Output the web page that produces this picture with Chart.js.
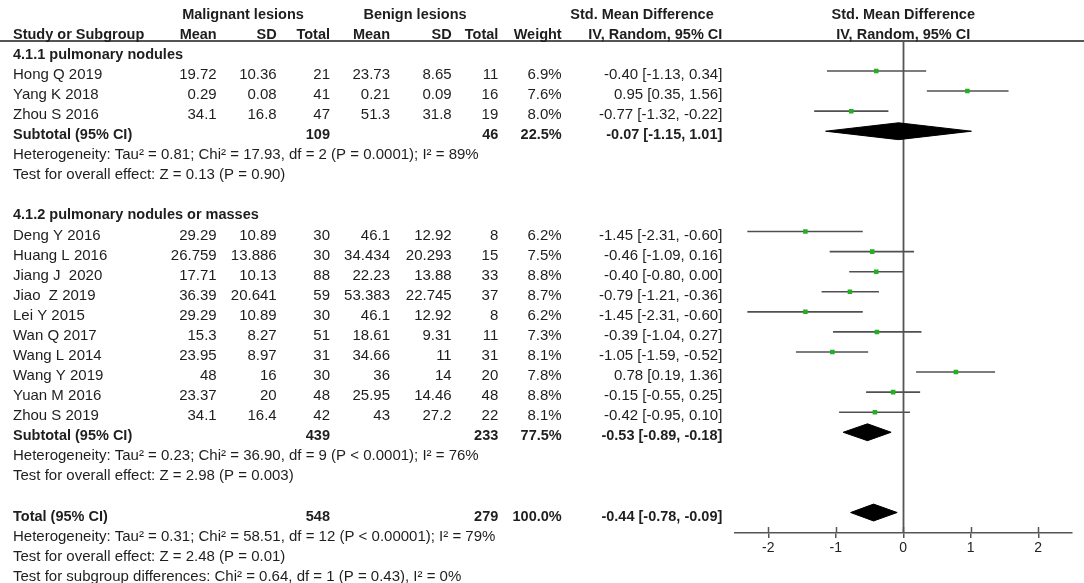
<!DOCTYPE html>
<html>
<head>
<meta charset="utf-8">
<script src="https://cdn.jsdelivr.net/npm/chart.js@4.4.1/dist/chart.umd.min.js"></script>
<style>
  html, body { margin: 0; padding: 0; background: #fff; }
  #wrap { width: 1084px; height: 583px; position: relative; }
</style>
</head>
<body>
<div id="wrap"><canvas id="forest"></canvas></div>
<script>
// study level data
var studies = ['Hong Q 2019', 'Yang K 2018', 'Zhou S 2016',
  'Deng Y 2016', 'Huang L 2016', 'Jiang J  2020', 'Jiao  Z 2019', 'Lei Y 2015',
  'Wan Q 2017', 'Wang L 2014', 'Wang Y 2019', 'Yuan M 2016', 'Zhou S 2019'];
var malMean = [19.72, 0.29, 34.1, 29.29, 26.759, 17.71, 36.39, 29.29, 15.3, 23.95, 48, 23.37, 34.1];
var malSD = [10.36, 0.08, 16.8, 10.89, 13.886, 10.13, 20.641, 10.89, 8.27, 8.97, 16, 20, 16.4];
var malN = [21, 41, 47, 30, 30, 88, 59, 30, 51, 31, 30, 48, 42];
var benMean = [23.73, 0.21, 51.3, 46.1, 34.434, 22.23, 53.383, 46.1, 18.61, 34.66, 36, 25.95, 43];
var benSD = [8.65, 0.09, 31.8, 12.92, 20.293, 13.88, 22.745, 12.92, 9.31, 11, 14, 14.46, 27.2];
var benN = [11, 16, 19, 8, 15, 33, 37, 8, 11, 31, 20, 48, 22];
var weights = ['6.9%', '7.6%', '8.0%', '6.2%', '7.5%', '8.8%', '8.7%', '6.2%', '7.3%', '8.1%', '7.8%', '8.8%', '8.1%'];
var smd = [-0.40, 0.95, -0.77, -1.45, -0.46, -0.40, -0.79, -1.45, -0.39, -1.05, 0.78, -0.15, -0.42];
var ciLow = [-1.13, 0.35, -1.32, -2.31, -1.09, -0.80, -1.21, -2.31, -1.04, -1.59, 0.19, -0.55, -0.95];
var ciHigh = [0.34, 1.56, -0.22, -0.60, 0.16, 0.00, -0.36, -0.60, 0.27, -0.52, 1.36, 0.25, 0.10];

// subgroups
var subgroups = ['4.1.1 pulmonary nodules', '4.1.2 pulmonary nodules or masses'];
var groupSize = [3, 10];
var subMalN = [109, 439];
var subBenN = [46, 233];
var subWeight = ['22.5%', '77.5%'];
var subSmd = [-0.07, -0.53];
var subLow = [-1.15, -0.89];
var subHigh = [1.01, -0.18];
var subHet = ['Heterogeneity: Tau² = 0.81; Chi² = 17.93, df = 2 (P = 0.0001); I² = 89%',
  'Heterogeneity: Tau² = 0.23; Chi² = 36.90, df = 9 (P < 0.0001); I² = 76%'];
var subTest = ['Test for overall effect: Z = 0.13 (P = 0.90)',
  'Test for overall effect: Z = 2.98 (P = 0.003)'];

// overall
var totalMalN = 548, totalBenN = 279, totalWeight = '100.0%';
var totalSmd = -0.44, totalLow = -0.78, totalHigh = -0.09;
var totalHet = 'Heterogeneity: Tau² = 0.31; Chi² = 58.51, df = 12 (P < 0.00001); I² = 79%';
var totalTest = 'Test for overall effect: Z = 2.48 (P = 0.01)';
var diffTest = 'Test for subgroup differences: Chi² = 0.64, df = 1 (P = 0.43), I² = 0%';

var tickVals = [-2, -1, 0, 1, 2];

// row layout (one row index per line of the table)
var studyRow = [];
var subRow = [];
var r = 0;
for (var g = 0; g < subgroups.length; g++) {
  subRow.push({ head: r });
  r++;
  for (var k = 0; k < groupSize[g]; k++) { studyRow.push(r); r++; }
  subRow[g].total = r; subRow[g].het = r + 1; subRow[g].test = r + 2;
  r += 4;
}
var totalRow = r; // 23

function ciText(e, l, h) {
  return e.toFixed(2) + ' [' + l.toFixed(2) + ', ' + h.toFixed(2) + ']';
}

// datasets
var pointData = studies.map(function (s, i) { return { x: smd[i], y: studyRow[i] }; });
var ciSets = studies.map(function (s, i) {
  return {
    type: 'line', data: [{ x: ciLow[i], y: studyRow[i] }, { x: ciHigh[i], y: studyRow[i] }],
    borderColor: '#505050', borderWidth: 1.6, pointRadius: 0, showLine: true, order: 2
  };
});
function diamond(e, l, h, row) {
  var hh = 0.42;
  return {
    type: 'line',
    data: [{ x: l, y: row }, { x: e, y: row - hh }, { x: h, y: row }, { x: e, y: row + hh }, { x: l, y: row }],
    borderColor: '#000', borderWidth: 1, backgroundColor: '#000', fill: 'shape',
    pointRadius: 0, showLine: true, tension: 0, order: 1
  };
}
var diamondSets = subgroups.map(function (s, g) {
  return diamond(subSmd[g], subLow[g], subHigh[g], subRow[g].total);
});
diamondSets.push(diamond(totalSmd, totalLow, totalHigh, totalRow));

var FONT = '"Liberation Sans", Arial, sans-serif';

var tablePlugin = {
  id: 'tablePlugin',
  beforeDatasetsDraw: function (chart) {
    var c = chart.ctx, x = chart.scales.x, a = chart.chartArea;
    c.save();
    c.strokeStyle = '#555';
    c.lineWidth = 2;
    c.beginPath();
    c.moveTo(0, a.top); c.lineTo(chart.width, a.top);
    c.stroke();
    var x0 = Math.round(x.getPixelForValue(0)) + 0.5;
    c.lineWidth = 1.8;
    c.beginPath();
    c.moveTo(x0, a.top); c.lineTo(x0, a.bottom);
    c.stroke();
    // upper half of tick marks
    c.lineWidth = 1.5;
    tickVals.forEach(function (v) {
      var px = Math.round(x.getPixelForValue(v)) + 0.5;
      c.beginPath(); c.moveTo(px, a.bottom - 6); c.lineTo(px, a.bottom); c.stroke();
    });
    c.restore();
  },
  afterDraw: function (chart) {
    var c = chart.ctx, y = chart.scales.y, x = chart.scales.x;
    var reg = '15px ' + FONT, bold = 'bold 14.5px ' + FONT;
    var cols = [216.7, 276.7, 330, 390, 451.7, 498.3, 561.7, 722.3];
    c.save();
    c.fillStyle = '#1e1e1e';
    c.textBaseline = 'alphabetic';
    function txt(s, px, py, align, f) {
      c.font = f; c.textAlign = align; c.fillText(s, px, py);
    }
    function base(row) { return y.getPixelForValue(row) + 8; }

    // header
    txt('Malignant lesions', 243, 18.5, 'center', bold);
    txt('Benign lesions', 415, 18.5, 'center', bold);
    txt('Std. Mean Difference', 642, 18.5, 'center', bold);
    txt('Std. Mean Difference', x.getPixelForValue(0), 18.5, 'center', bold);
    txt('Study or Subgroup', 13, 38.5, 'left', bold);
    var h2 = ['Mean', 'SD', 'Total', 'Mean', 'SD', 'Total', 'Weight', 'IV, Random, 95% CI'];
    h2.forEach(function (s, i) { txt(s, cols[i], 38.5, 'right', bold); });
    txt('IV, Random, 95% CI', x.getPixelForValue(0), 38.5, 'center', bold);

    // studies
    studies.forEach(function (s, i) {
      var b = base(studyRow[i]);
      txt(s, 13, b, 'left', reg);
      var vals = [malMean[i], malSD[i], malN[i], benMean[i], benSD[i], benN[i], weights[i],
        ciText(smd[i], ciLow[i], ciHigh[i])];
      vals.forEach(function (v, j) { txt(String(v), cols[j], b, 'right', reg); });
    });

    // subgroup rows
    subgroups.forEach(function (s, g) {
      var sr = subRow[g];
      txt(s, 13, base(sr.head), 'left', bold);
      var b = base(sr.total);
      txt('Subtotal (95% CI)', 13, b, 'left', bold);
      txt(String(subMalN[g]), cols[2], b, 'right', bold);
      txt(String(subBenN[g]), cols[5], b, 'right', bold);
      txt(subWeight[g], cols[6], b, 'right', bold);
      txt(ciText(subSmd[g], subLow[g], subHigh[g]), cols[7], b, 'right', bold);
      txt(subHet[g], 13, base(sr.het), 'left', reg);
      txt(subTest[g], 13, base(sr.test), 'left', reg);
    });

    // total
    var tb = base(totalRow);
    txt('Total (95% CI)', 13, tb, 'left', bold);
    txt(String(totalMalN), cols[2], tb, 'right', bold);
    txt(String(totalBenN), cols[5], tb, 'right', bold);
    txt(totalWeight, cols[6], tb, 'right', bold);
    txt(ciText(totalSmd, totalLow, totalHigh), cols[7], tb, 'right', bold);
    txt(totalHet, 13, base(totalRow + 1), 'left', reg);
    txt(totalTest, 13, base(totalRow + 2), 'left', reg);
    txt(diffTest, 13, base(totalRow + 3), 'left', reg);
    c.restore();
  }
};

var ctx = document.getElementById('forest').getContext('2d');
var forest = new Chart(ctx, {
  type: 'scatter',
  data: {
    datasets: [{
      data: pointData,
      pointStyle: 'rect',
      pointRadius: 3.2,
      pointBackgroundColor: '#22b022',
      pointBorderWidth: 0,
      order: 0
    }].concat(ciSets).concat(diamondSets)
  },
  options: {
    responsive: true,
    maintainAspectRatio: false,
    animation: false,
    layout: { padding: { left: 734.5, right: 12, top: 41, bottom: 0 } },
    plugins: { legend: { display: false }, tooltip: { enabled: false } },
    scales: {
      x: {
        type: 'linear', min: -2.5, max: 2.5,
        afterBuildTicks: function (s) { s.ticks = tickVals.map(function (v) { return { value: v }; }); },
        afterFit: function (s) { s.height = 50; },
        grid: { drawOnChartArea: false, drawTicks: true, tickLength: 5, color: '#555', lineWidth: 1.5 },
        border: { display: true, color: '#555', width: 1.5 },
        ticks: { color: '#222', padding: 2, font: { family: FONT, size: 14 } }
      },
      y: {
        type: 'linear', display: false, reverse: true, min: -0.495, max: 24.02
      }
    }
  },
  plugins: [tablePlugin]
});
</script>
</body>
</html>
